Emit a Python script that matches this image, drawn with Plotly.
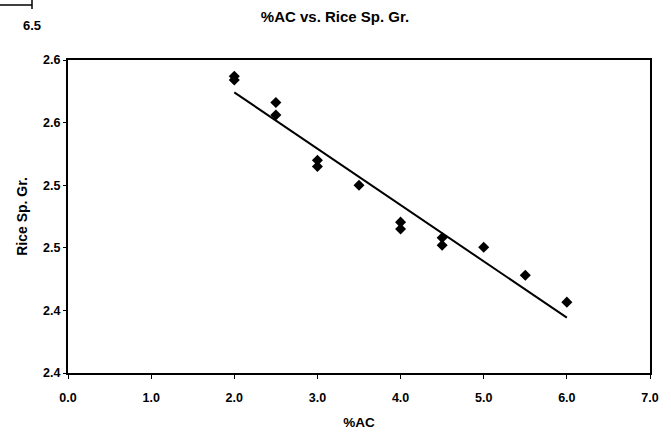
import numpy as np
import plotly.graph_objects as go

# %AC measurements and the matching rice specific gravity readings
ac_pct = [2.0, 2.0, 2.5, 2.5, 3.0, 3.0, 3.5, 4.0, 4.0, 4.5, 4.5, 5.0, 5.5, 6.0]
sp_gr = [2.587, 2.584, 2.566, 2.556, 2.520, 2.515, 2.500, 2.4705, 2.465,
         2.458, 2.452, 2.4505, 2.428, 2.4066]

# Axis ticks
x_ticks = [0.0, 1.0, 2.0, 3.0, 4.0, 5.0, 6.0, 7.0]
y_ticks = [2.35, 2.40, 2.45, 2.50, 2.55, 2.60]
y_tick_text = ["2.4", "2.4", "2.5", "2.5", "2.6", "2.6"]

# Least-squares trendline over the measured range
slope, intercept = np.polyfit(ac_pct, sp_gr, 1)
fit_x = [min(ac_pct), max(ac_pct)]
fit_y = [slope * v + intercept for v in fit_x]

FONT = "Liberation Sans, Arial, sans-serif"
TICK_FONT = dict(family=FONT, size=12.5, weight="bold", color="black")

fig = go.Figure()
fig.add_trace(go.Scatter(
    x=fit_x, y=fit_y, mode="lines",
    line=dict(color="black", width=2), showlegend=False, hoverinfo="skip",
))
fig.add_trace(go.Scatter(
    x=ac_pct, y=sp_gr, mode="markers",
    marker=dict(symbol="diamond", size=8.5, color="black"),
    showlegend=False,
))

fig.update_layout(
    width=671, height=432,
    margin=dict(l=68, r=21, t=60, b=59),
    paper_bgcolor="white", plot_bgcolor="white",
    font=dict(family=FONT, size=13, color="black"),
    title=dict(text="<b>%AC vs. Rice Sp. Gr.</b>", x=335 / 671, xanchor="center",
               y=1 - 17 / 432, yanchor="middle", font=dict(size=15)),
    xaxis=dict(
        range=[0, 7], tickvals=x_ticks, tickformat=".1f", automargin=False,
        showgrid=False, zeroline=False, showline=True, mirror=True,
        linecolor="black", linewidth=2, ticks="outside", ticklen=4,
        tickcolor="black", tickwidth=1, ticklabelstandoff=8,
        tickfont=TICK_FONT,
        title=dict(text="<b>%AC</b>", font=dict(size=13.5), standoff=14),
    ),
    yaxis=dict(
        range=[2.35, 2.60], tickvals=y_ticks, ticktext=y_tick_text, automargin=False,
        showgrid=False, zeroline=False, showline=True, mirror=True,
        linecolor="black", linewidth=2, ticks="outside", ticklen=3,
        tickcolor="black", tickwidth=1,
        tickfont=TICK_FONT,
        title=dict(text="<b>Rice Sp. Gr.</b>", font=dict(size=14), standoff=12),
    ),
)

# Fragment of a neighbouring axis in the top-left corner
fig.add_shape(type="line", xref="paper", yref="paper",
              x0=-68 / 582, x1=-36 / 582, y0=1 + 55 / 313, y1=1 + 55 / 313,
              line=dict(color="black", width=1.5))
fig.add_shape(type="line", xref="paper", yref="paper",
              x0=-36 / 582, x1=-36 / 582, y0=1 + 60 / 313, y1=1 + 51 / 313,
              line=dict(color="black", width=1.5))
fig.add_annotation(text="<b>6.5</b>", xref="paper", yref="paper",
                   x=-36 / 582, y=1 + 34 / 313, xanchor="center", yanchor="middle",
                   showarrow=False, font=dict(size=13))

fig.write_html("out.html")
